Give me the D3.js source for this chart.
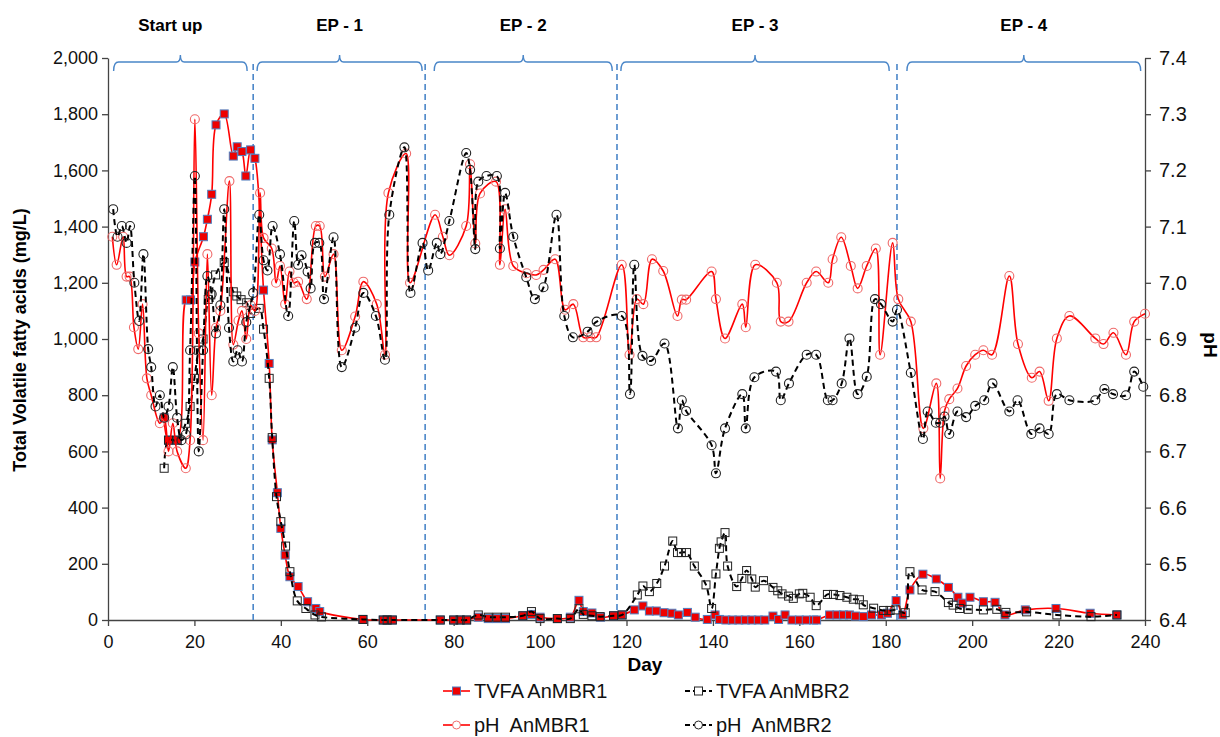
<!DOCTYPE html>
<html>
<head>
<meta charset="utf-8">
<script src="https://cdn.jsdelivr.net/npm/d3@7"></script>
<style>
  body { margin: 0; background: #fff; }
  text { font-family: Arial, "Liberation Sans", sans-serif; }
</style>
</head>
<body>
<svg id="chart" width="1220" height="737"></svg>
<script>
// ---- data: [day, value] ----
const tvfa1 = [[13,720],[14,640],[16,640],[18.1,1139],[19.1,1139],[20.1,1274],[22.1,1364],[23,1426],[24,1515],[25,1762],[26.9,1801],[29,1651],[29.9,1684],[31,1667],[31.9,1580],[33,1673],[34,1643],[36,1174],[37.3,913],[38,641],[39.2,453],[40,326],[41,231],[42.1,154],[44,119],[46.2,65],[48.1,41],[49,30],[59,2],[63.7,0],[64.6,0],[65.8,0],[76.9,0],[80,0],[81.5,0],[83,0],[85.7,10],[88,5],[90,5],[92,5],[96,15],[98,20],[100,10],[104,5],[107,10],[109,70],[110,30],[112,25],[114,10],[117,15],[118.9,18],[121.8,36],[123.8,50],[125.3,32],[126.9,32],[128.7,26],[130.5,24],[132,18],[134.1,27],[135.9,10],[138.7,2],[140.5,18],[141.5,2],[143,0],[144.5,0],[146,0],[147.5,0],[149,0],[150.5,0],[152,0],[153.9,14],[155.2,2],[156.7,18],[158.3,0],[160,0],[161.6,0],[163.3,0],[164,0],[167,18],[168.7,18],[170.2,18],[171.6,18],[173,14],[174.8,12],[176.7,18],[179,18],[180.4,24],[182.4,69],[183.9,18],[185.6,107],[188.6,163],[191.7,146],[194.5,116],[196.7,81],[197.7,60],[199.5,81],[202.6,65],[205.3,63],[207.6,18],[212.3,36],[219.4,41],[227.3,24],[233.5,18]];

const tvfa2 = [[13,540],[14,640],[16,640],[18,700],[19,760],[20,860],[21,960],[22,1000],[23.2,1141],[23.8,1157],[24.9,1228],[26.9,1272],[29,1168],[29.8,1153],[30.8,1140],[32.1,1129],[33,1091],[35,1109],[36,1035],[37.3,860],[38,649],[39,439],[40,350],[41.1,263],[42.1,172],[43.8,68],[45.8,41],[47.9,18],[49.4,11],[59,2],[63.7,0],[64.6,0],[65.8,0],[76.9,0],[80,0],[81.5,0],[83,0],[85.7,18],[88,10],[90,10],[92,10],[96,15],[98,30],[100,5],[104,5],[107,5],[109,40],[110,20],[112,15],[113.9,12],[117,15],[119,18],[122.5,89],[123.8,121],[125.3,101],[127,130],[128.8,192],[130.7,281],[131.8,240],[132.7,240],[133.9,240],[135.7,192],[138.4,125],[139.7,41],[140.7,164],[141.5,255],[141.9,278],[142.8,311],[143.4,192],[145.5,119],[146.7,148],[147.8,176],[149,146],[149.8,117],[151.7,140],[153.9,116],[155,104],[156,93],[157.5,85],[158.6,77],[160,93],[160.8,95],[162.5,81],[163.9,51],[166.5,91],[167.9,91],[169.4,87],[171,81],[172.5,74],[173.9,72],[174.8,54],[177.2,42],[179.5,34],[181,34],[182.4,36],[184.5,26],[185.6,172],[188.4,107],[191.4,101],[194.5,62],[195.6,53],[197.1,41],[199.1,38],[202.6,36],[205.7,38],[207.8,27],[212.6,29],[219.6,18],[227.5,12],[233.5,18]];

const ph1 = [[1,7.082],[2,7.032],[3.5,7.082],[4.3,7.011],[5,7.011],[6,6.921],[7,6.882],[8,6.962],[9,6.83],[10,6.8],[12,6.75],[13,6.76],[14,6.7],[15,6.75],[16,6.7],[18,6.67],[19,6.72],[20.1,7.291],[21,6.91],[22,6.72],[23,7.051],[24,6.8],[25,6.92],[26,6.95],[28.1,7.181],[29,6.89],[30.2,6.933],[31,6.95],[32,6.9],[33,6.96],[34,6.95],[35.2,7.16],[36,7.08],[37.9,7.061],[38.9,7.0],[39.8,7.03],[41,6.962],[42,7.02],[43,7.0],[44,7.002],[46,6.971],[48.1,7.101],[49,7.101],[50.2,7.011],[52.2,7.051],[54.1,6.88],[57.2,6.94],[59.1,7.002],[62.2,6.962],[64.1,6.872],[64.9,7.16],[69,7.23],[69.9,7.0],[75.7,7.121],[77.5,7.082],[79,7.049],[82.9,7.101],[83.8,7.211],[85,7.07],[86.1,7.159],[89.8,7.18],[90.7,7.032],[91.9,7.131],[93.8,7.03],[96.9,7.017],[99.1,7.014],[100.8,7.023],[103.5,7.042],[105.8,6.952],[107.7,6.962],[110,6.903],[111.6,6.903],[113,6.903],[118.9,7.032],[120.7,6.872],[122.4,6.971],[123.9,6.962],[125.9,7.042],[128.5,7.021],[131.8,6.941],[132.8,6.97],[133.8,6.97],[139.7,7.02],[140.7,6.971],[142.8,6.901],[146.8,6.962],[147.6,6.921],[149.8,7.032],[154.8,7.0],[155.7,6.931],[157.5,6.931],[161.7,7.0],[163.9,7.02],[166.7,7.0],[167.7,7.042],[169.7,7.081],[171.9,7.03],[173.5,6.99],[175.6,7.03],[177.7,7.061],[178.7,6.872],[181.6,7.071],[182.9,6.971],[185.8,6.931],[188.7,6.741],[191.7,6.821],[192.6,6.652],[193.6,6.772],[194.7,6.793],[196.6,6.812],[198.6,6.852],[200.7,6.872],[202.6,6.88],[204.6,6.872],[208.6,7.012],[210.6,6.891],[213.8,6.831],[215.6,6.842],[217.7,6.79],[219.6,6.901],[222.5,6.941],[228.5,6.901],[230.4,6.891],[232.7,6.911],[235.6,6.872],[237.5,6.931],[240,6.945]];

const ph2 = [[1.2,7.131],[2.2,7.082],[3.2,7.101],[4.3,7.071],[5.1,7.101],[6.1,7.0],[7.2,6.932],[8.2,7.051],[9.3,6.882],[10,6.85],[11,6.78],[12,6.8],[13,6.76],[14,6.78],[15,6.85],[16,6.76],[17,6.72],[18,6.73],[19,6.88],[20.1,7.19],[21,6.7],[22,6.88],[23,7.012],[24,6.98],[25,6.91],[26,6.96],[26.9,7.131],[28,6.92],[29,6.86],[30,6.88],[31,6.86],[32,6.93],[33.6,6.982],[35,7.121],[36,7.04],[36.9,7.022],[38.1,7.101],[39.8,7.051],[41.7,6.941],[43.1,7.11],[44,7.032],[44.8,7.049],[46.2,7.02],[46.9,6.99],[47.9,7.071],[48.9,7.071],[50,6.971],[52.2,7.081],[54.1,6.85],[57.2,6.92],[59.1,6.982],[62,6.941],[64.1,6.863],[65.1,7.121],[68.6,7.241],[70,6.982],[72.8,7.071],[74.1,7.022],[76.1,7.071],[76.9,7.051],[79,7.11],[82.9,7.231],[83.8,7.201],[85,7.06],[85.7,7.18],[87.6,7.19],[90,7.19],[90.7,7.061],[91.9,7.16],[93.8,7.082],[96.8,7.01],[98.8,6.971],[100.8,6.992],[103.8,7.121],[105.6,6.941],[107.6,6.903],[111,6.913],[113.1,6.931],[118.9,6.941],[120.8,6.802],[121.8,7.032],[123.7,6.87],[125.7,6.861],[128.8,6.892],[131.9,6.741],[132.8,6.791],[133.8,6.772],[139.7,6.711],[140.7,6.661],[142.8,6.741],[146.8,6.802],[147.6,6.741],[149.6,6.832],[154.6,6.842],[155.7,6.791],[157.6,6.821],[161.7,6.872],[163.9,6.872],[166.6,6.791],[167.7,6.791],[169.8,6.821],[171.6,6.901],[173.5,6.802],[175.6,6.833],[177.5,6.971],[178.9,6.962],[181.6,6.931],[182.6,6.952],[185.8,6.84],[188.6,6.722],[189.7,6.771],[191.6,6.751],[192.6,6.751],[193.6,6.762],[194.7,6.731],[196.6,6.771],[198.6,6.761],[200.7,6.781],[202.8,6.791],[204.7,6.821],[208.6,6.771],[210.5,6.791],[213.7,6.731],[215.6,6.741],[217.7,6.731],[219.6,6.802],[222.5,6.791],[228.5,6.791],[230.6,6.811],[232.6,6.802],[235.6,6.8],[237.5,6.842],[239.6,6.815]];

// phases (days)
const phaseLabels = ["Start up", "EP - 1", "EP - 2", "EP - 3", "EP - 4"];
const phaseStart = [1.3, 34.5, 75.5, 118.7, 184.9];
const phaseEnd = [32.2, 72.7, 116.7, 180.8, 239];
const phaseDividers = [33.6, 73.4, 117.8, 182.6];

const xTicks = d3.range(0, 241, 20);
const tvfaTicks = d3.range(0, 2001, 200);
const phTicks = [6.4, 6.5, 6.6, 6.7, 6.8, 6.9, 7.0, 7.1, 7.2, 7.3, 7.4];

const legendItems = ["TVFA AnMBR1", "TVFA AnMBR2", "pH  AnMBR1", "pH  AnMBR2"];

// ---- chart ----
const svg = d3.select("#chart");
const x = d3.scaleLinear().domain([0, 240]).range([108, 1145]);
const yL = d3.scaleLinear().domain([0, 2000]).range([620, 58]);
const yR = d3.scaleLinear().domain([6.4, 7.4]).range([620, 58]);

const axisColor = "#444";
const blue = "#4a86c8";

// axes
const gx = svg.append("g").attr("transform", "translate(0,620)")
  .call(d3.axisBottom(x).tickValues(xTicks).tickSize(6).tickSizeOuter(0));
const gl = svg.append("g").attr("transform", "translate(108,0)")
  .call(d3.axisLeft(yL).tickValues(tvfaTicks).tickFormat(d3.format(",")).tickSize(6).tickSizeOuter(0));
const gr = svg.append("g").attr("transform", "translate(1145,0)")
  .call(d3.axisRight(yR).tickValues(phTicks).tickFormat(d3.format(".1f")).tickSize(6).tickSizeOuter(0));

[gx, gl, gr].forEach(g => {
  g.select(".domain").attr("stroke", axisColor).attr("stroke-width", 1.3);
  g.selectAll(".tick line").attr("stroke", axisColor).attr("stroke-width", 1.3);
  g.selectAll(".tick text").attr("fill", "#111").style("font-size", "18px")
    .style("font-family", "Arial, 'Liberation Sans', sans-serif");
});
gx.selectAll(".tick text").attr("dy", "1.05em");
gl.selectAll(".tick text").attr("x", -10);
gr.selectAll(".tick text").attr("x", 14).style("font-size", "20px");

// axis titles
svg.append("text").attr("transform", "translate(26,340) rotate(-90)")
  .attr("text-anchor", "middle").attr("font-weight", "bold").style("font-size", "18px")
  .text("Total Volatile fatty acids (mg/L)");
svg.append("text").attr("transform", "translate(1204,345) rotate(90)")
  .attr("text-anchor", "middle").attr("font-weight", "bold").style("font-size", "19px")
  .text("pH");
svg.append("text").attr("x", 645).attr("y", 671)
  .attr("text-anchor", "middle").attr("font-weight", "bold").style("font-size", "19px")
  .text("Day");

// phase dividers
svg.append("g").selectAll("line").data(phaseDividers).join("line")
  .attr("x1", d => x(d)).attr("x2", d => x(d))
  .attr("y1", 64).attr("y2", 620)
  .attr("stroke", blue).attr("stroke-width", 1.6).attr("stroke-dasharray", "6,4");

// braces
function brace(x0, x1, y) {
  const m = (x0 + x1) / 2;
  return `M${x0},${y + 9} Q${x0},${y} ${x0 + 5},${y} L${m - 4},${y} Q${m},${y} ${m},${y - 7}` +
         ` Q${m},${y} ${m + 4},${y} L${x1 - 5},${y} Q${x1},${y} ${x1},${y + 9}`;
}
const phases = phaseLabels.map((l, i) => ({label: l, s: phaseStart[i], e: phaseEnd[i]}));
svg.append("g").selectAll("path").data(phases).join("path")
  .attr("d", d => brace(x(d.s), x(d.e), 62))
  .attr("fill", "none").attr("stroke", blue).attr("stroke-width", 1.4);
svg.append("g").selectAll("text").data(phases).join("text")
  .attr("x", (d, i) => (x(d.s) + x(d.e)) / 2 - (i === 0 ? 10 : 0))
  .attr("y", 31).attr("text-anchor", "middle")
  .attr("font-weight", "bold").style("font-size", "17px")
  .text(d => d.label);

// series
const curve = d3.curveCatmullRom.alpha(0.5);
const lineL = d3.line().x(d => x(d[0])).y(d => yL(d[1])).curve(curve);
const lineR = d3.line().x(d => x(d[0])).y(d => yR(d[1])).curve(curve);

const series = [
  {data: tvfa1, line: lineL, y: yL, color: "#ff0000", dash: null, width: 1.6, marker: "sq", mFill: "#ee0000", mStroke: "#4f7fc0"},
  {data: tvfa2, line: lineL, y: yL, color: "#000", dash: "6,4", width: 2, marker: "sq", mFill: "none", mStroke: "#222"},
  {data: ph1, line: lineR, y: yR, color: "#ff0000", dash: null, width: 1.6, marker: "ci", mFill: "none", mStroke: "#ef6a6a"},
  {data: ph2, line: lineR, y: yR, color: "#000", dash: "6,4", width: 2, marker: "ci", mFill: "none", mStroke: "#222"}
];

series.forEach(s => {
  const g = svg.append("g");
  g.append("path").datum(s.data).attr("d", s.line)
    .attr("fill", "none").attr("stroke", s.color).attr("stroke-width", s.width)
    .attr("stroke-dasharray", s.dash);
  if (s.marker === "sq") {
    g.selectAll("rect").data(s.data).join("rect")
      .attr("x", d => x(d[0]) - 4).attr("y", d => s.y(d[1]) - 4)
      .attr("width", 8).attr("height", 8)
      .attr("fill", s.mFill).attr("stroke", s.mStroke).attr("stroke-width", 1);
  } else {
    g.selectAll("circle").data(s.data).join("circle")
      .attr("cx", d => x(d[0])).attr("cy", d => s.y(d[1])).attr("r", 4.5)
      .attr("fill", s.mFill).attr("stroke", s.mStroke).attr("stroke-width", 1.1);
  }
});

// legend
const legPos = [[443, 691], [685, 691], [443, 725], [685, 725]];
legendItems.forEach((name, i) => {
  const s = series[i];
  const [lx, ly] = legPos[i];
  const g = svg.append("g");
  g.append("line").attr("x1", lx).attr("x2", lx + 27).attr("y1", ly).attr("y2", ly)
    .attr("stroke", s.color).attr("stroke-width", s.width)
    .attr("stroke-dasharray", s.dash ? "5,3" : null);
  if (s.marker === "sq") {
    g.append("rect").attr("x", lx + 9.5).attr("y", ly - 4).attr("width", 8).attr("height", 8)
      .attr("fill", s.mFill === "none" ? "#fff" : s.mFill).attr("stroke", s.mStroke);
  } else {
    g.append("circle").attr("cx", lx + 13.5).attr("cy", ly).attr("r", 4)
      .attr("fill", "#fff").attr("stroke", s.mStroke);
  }
  g.append("text").attr("x", lx + 31).attr("y", ly + 7).style("font-size", "20px")
    .style("white-space", "pre").attr("xml:space", "preserve")
    .attr("fill", "#111").text(name);
});
</script>
</body>
</html>
